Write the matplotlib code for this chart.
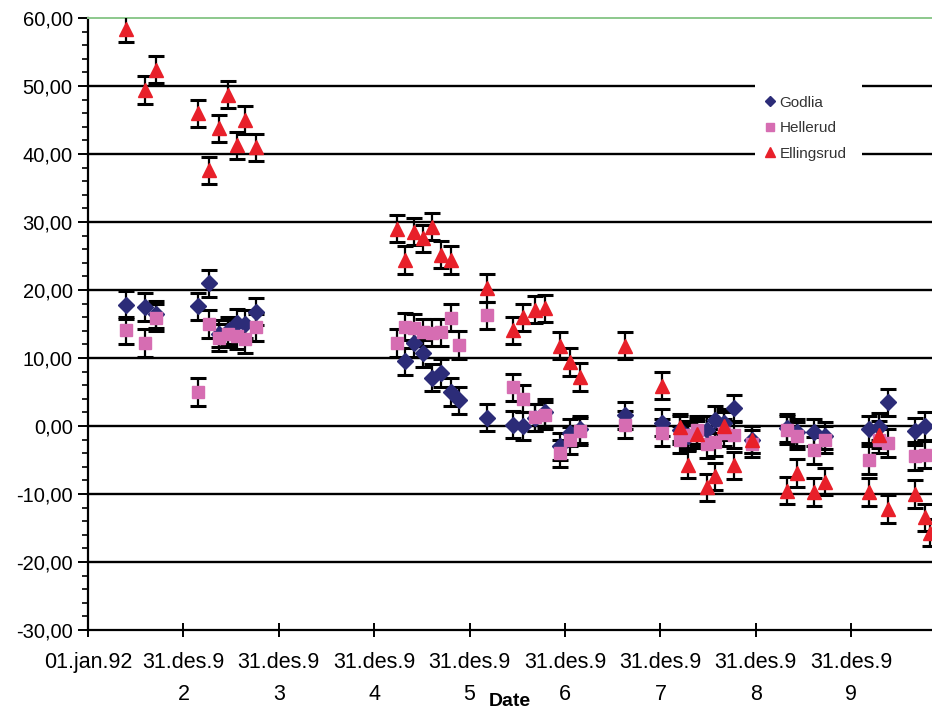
import numpy as np
import matplotlib
matplotlib.use("Agg")
import matplotlib.pyplot as plt
from matplotlib.lines import Line2D
from matplotlib.patches import Rectangle
from matplotlib import font_manager

# ---------------- data (decimal years) ----------------
dates = [1992.40, 1992.60, 1992.71,
         1993.15, 1993.27, 1993.37, 1993.47, 1993.56, 1993.65, 1993.76,
         1995.24, 1995.32, 1995.42, 1995.51, 1995.61, 1995.70, 1995.80, 1995.89,
         1996.18, 1996.46, 1996.56, 1996.69, 1996.79, 1996.95, 1997.05, 1997.16,
         1997.63, 1998.02, 1998.21, 1998.29, 1998.38, 1998.49, 1998.57, 1998.67, 1998.77, 1998.96,
         1999.33, 1999.43, 1999.61, 1999.73, 2000.19, 2000.29, 2000.39, 2000.67, 2000.77, 2000.83]

godlia = [17.8, 17.5, 16.4,
          17.6, 21.0, 13.6, 14.0, 15.2, 15.0, 16.8,
          np.nan, 9.5, 12.2, 10.7, 7.1, 7.8, 5.0, 3.8,
          1.2, 0.2, 0.0, 1.2, 2.0, -3.0, -1.0, -0.5,
          1.6, 0.5, -0.6, -1.5, -1.0, -0.6, 0.9, 0.5, 2.6, -2.0,
          -0.3, -0.9, -0.9, -1.4, -0.5, -0.1, 3.5, -0.8, 0.0, np.nan]

hellerud = [14.1, 12.2, 15.9,
            5.0, 15.0, 13.0, 13.6, 13.3, 12.8, 14.5,
            12.2, 14.6, 14.4, 13.8, 13.7, 13.8, 15.9, 11.9,
            16.3, 5.7, 4.0, 1.3, 1.6, -4.0, -2.1, -0.8,
            0.2, -1.0, -2.0, -1.3, -0.6, -2.7, -2.4, -1.0, -1.3, -2.6,
            -0.6, -1.4, -3.6, -2.0, -5.0, -2.0, -2.5, -4.4, -4.2, np.nan]

ellingsrud = [58.4, 49.4, 52.4,
              46.0, 37.6, 43.8, 48.7, 41.3, 45.0, 41.0,
              29.0, 24.4, 28.6, 27.6, 29.3, 25.2, 24.4, np.nan,
              20.3, 14.1, 16.0, 17.1, 17.3, 11.8, 9.4, 7.2,
              11.8, 5.9, -0.2, -5.7, -1.2, -9.0, -7.4, 0.0, -5.8, -2.0,
              -9.5, -6.9, -9.7, -8.2, -9.7, -1.3, -12.2, -10.0, -13.4, -15.7]

err = 2.0

tick_pos = [1992, 1993, 1994, 1995, 1996, 1997, 1998, 1999, 2000]
tick_line1 = ["01.jan.92", "31.des.9", "31.des.9", "31.des.9", "31.des.9",
              "31.des.9", "31.des.9", "31.des.9", "31.des.9"]
tick_line2 = ["", "2", "3", "4", "5", "6", "7", "8", "9"]

series_names = ["Godlia", "Hellerud", "Ellingsrud"]

# ---------------- fonts ----------------
def pick(cands):
    for c in cands:
        try:
            font_manager.findfont(c, fallback_to_default=False)
            return c
        except Exception:
            pass
    return "DejaVu Sans"

narrow = pick(["Liberation Sans Narrow", "Liberation Sans"])
plt.rcParams["font.family"] = [narrow, "DejaVu Sans"]

W, H = 932, 709
fig = plt.figure(figsize=(W / 100, H / 100), dpi=100)
L, T, B = 88, 18, 630
ax = fig.add_axes([L / W, 1 - B / H, 1 - L / W, (B - T) / H])

x0, x1 = 1992.0, 1992.0 + (W - L) / 95.4
ax.set_xlim(x0, x1)
ax.set_ylim(-30, 60)

for yv in range(-20, 60, 10):
    ax.axhline(yv, color="black", lw=1.7, zorder=1)

ax.spines["right"].set_visible(False)
ax.spines["top"].set_color("#8cc88c")
ax.spines["top"].set_linewidth(1.4)
ax.spines["left"].set_linewidth(1.6)
ax.spines["bottom"].set_linewidth(1.6)

colors = ["#2c2c78", "#d66db2", "#e8202a"]
markers = ["D", "s", "^"]
msizes = [8.5, 8, 10]
for vals, c, m, ms in zip([godlia, hellerud, ellingsrud], colors, markers, msizes):
    v = np.array(vals, dtype=float)
    ax.errorbar(dates, v, yerr=err, fmt=m, color=c, ms=ms, mec=c,
                ecolor="black", elinewidth=1.6, capsize=6, capthick=2.2, zorder=3)

ax.set_yticks(range(-30, 61, 10))
ax.set_yticklabels([f"{v},00" for v in range(-30, 61, 10)], fontsize=14.5)
ax.set_yticks(np.arange(-30, 61, 2), minor=True)
ax.tick_params(axis="y", which="major", direction="out", length=7, width=1.4, pad=4)
ax.tick_params(axis="y", which="minor", direction="out", length=4, width=1.2)

# two-line date labels: first line as major labels, second line as minor labels
ax.xaxis.remove_overlapping_locs = False
ax.set_xticks(tick_pos)
ax.set_xticklabels(tick_line1, fontsize=15.5)
ax.set_xticks(tick_pos, minor=True)
ax.set_xticklabels(tick_line2, minor=True, fontsize=15.5)
ax.tick_params(axis="x", which="major", direction="inout", length=10, width=1.4, pad=11)
ax.tick_params(axis="x", which="minor", length=0, pad=39)

ax.set_xlabel("Date", fontsize=14, fontweight="bold", va="top")
ax.xaxis.set_label_coords(0.5, (B - 693) / (B - T))

# white legend background box (covers grid lines like the original)
fig.patches.append(Rectangle((755 / W, 1 - 162 / H), 107 / W, 82 / H,
                             transform=fig.transFigure, facecolor="white",
                             edgecolor="none", zorder=5))

handles = [Line2D([], [], ls="none", marker=m, color=c, ms=ms * 0.65)
           for c, m, ms in zip(colors, markers, msizes)]
leg = fig.legend(handles, series_names, loc="upper left",
                 bbox_to_anchor=(758 / W, 1 - 88 / H), frameon=False,
                 fontsize=11, labelspacing=0.75, handlelength=0.6,
                 handletextpad=0.3, borderpad=0.0)
leg.set_zorder(6)
for t in leg.get_texts():
    t.set_color("#333333")
    t.set_family(["Liberation Sans", "DejaVu Sans"])

fig.savefig("out.png", dpi=100)
